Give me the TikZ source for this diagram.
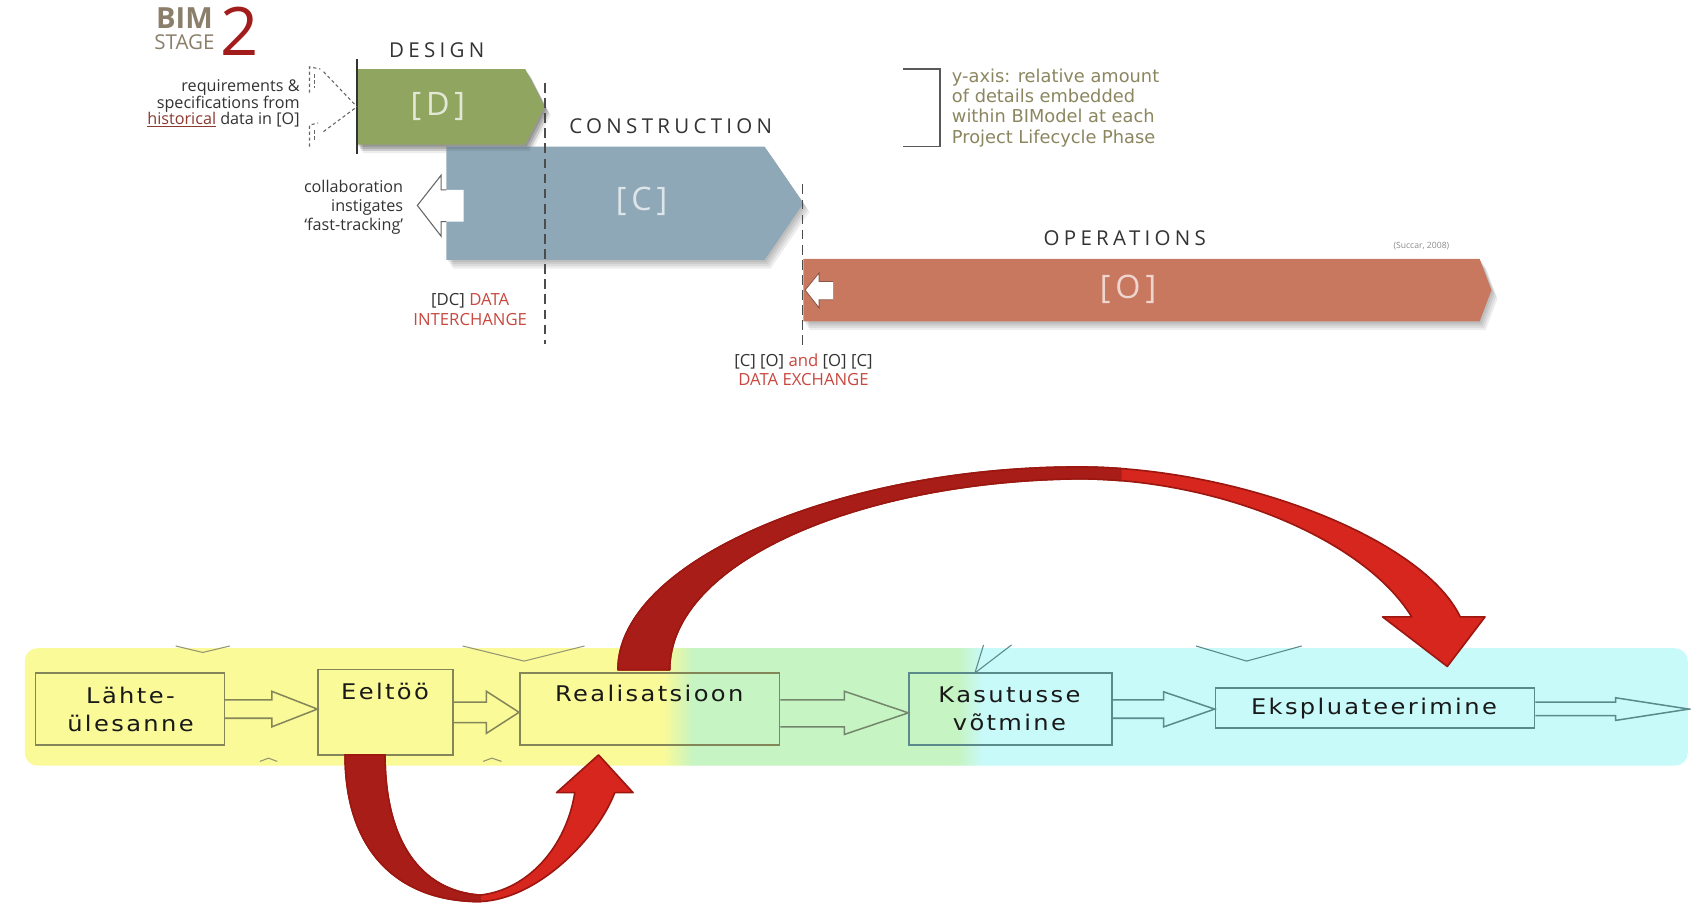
\documentclass[tikz,border=0pt]{standalone}
\usepackage{fontspec}
\setmainfont{Open Sans}
\newfontfamily\phasefont[LetterSpace=21]{Open Sans}
\newfontfamily\brfont[LetterSpace=15]{Open Sans}
\newfontfamily\yfont{DejaVu Sans}
\newfontfamily\boxfont[FakeStretch=1.12,LetterSpace=11]{DejaVu Sans}
\usetikzlibrary{shadows,calc}
\definecolor{bimgray}{HTML}{8B7F6B}
\definecolor{bimred}{HTML}{A31C1C}
\definecolor{dgreen}{HTML}{90A55F}
\definecolor{cblue}{HTML}{8FA8B7}
\definecolor{oorange}{HTML}{C97860}
\definecolor{txtdark}{HTML}{333333}
\definecolor{labred}{HTML}{C8483F}
\definecolor{histbrown}{HTML}{8B3A30}
\definecolor{yaxis}{HTML}{8C8660}
\definecolor{bandY}{HTML}{FAFA98}
\definecolor{bandG}{HTML}{C6F4C2}
\definecolor{bandC}{HTML}{C9FAFA}
\definecolor{olivebox}{HTML}{85855A}
\definecolor{tealbox}{HTML}{5A8A8C}
\definecolor{arcdark}{HTML}{A91D18}
\definecolor{arcbright}{HTML}{D7261E}
\definecolor{arcedge}{HTML}{9B1710}
\def\bigarc{(573,621) .. controls (573,520) and (780,433) .. (1000,433)
 .. controls (1150,433) and (1320,500) .. (1354,572)
 -- (1377,572) -- (1342,618) -- (1282,572) -- (1309,572)
 .. controls (1265,500) and (1130,444) .. (1000,444)
 .. controls (800,446) and (621,520) .. (621,621) -- cycle}
\def\smallarc{(320,700) .. controls (320,790) and (370,836) .. (445,836)
 .. controls (500,834) and (555,775) .. (570,735)
 -- (587,735) -- (555,700) -- (516,735) -- (533,735)
 .. controls (525,785) and (490,825) .. (445,830)
 .. controls (390,826) and (357,780) .. (357,700) -- cycle}
\def\obar{(745,240) -- (1372,240) -- (1383,269) -- (1372,298) -- (745,298) -- cycle}
\def\cbar{(414,136) -- (709,136) -- (745,188.5) -- (709,241) -- (414,241) -- cycle}
\def\dbar{(331,64) -- (487,64) -- (505,99) -- (487,134) -- (331,134) -- cycle}
\begin{document}
\begin{tikzpicture}[x=1pt,y=-1pt,
  phase/.style={font=\phasefont\fontsize{19}{22}\selectfont, text=txtdark, inner sep=0},
  brk/.style={font=\brfont\fontsize{30}{34}\selectfont, inner sep=0},
  note/.style={font=\fontsize{15}{15.5}\selectfont, text=txtdark, inner sep=0},
  bx/.style={draw=olivebox, line width=1.4, inner sep=0},
  bxt/.style={font=\boxfont\fontsize{20}{26}\selectfont, text=black!90, inner sep=0, align=center},
  barrow/.style={draw=olivebox, line width=1.4},
  vdash/.style={draw=black!70, line width=1.6, dash pattern=on 9pt off 5pt},
  sdash/.style={draw=black!60, line width=1, dash pattern=on 3pt off 2.5pt},
  softshadow/.style={fill=black, opacity=0.07},
  chev/.style={draw=olivebox!85, line width=1},
  arcfill/.style={draw=arcedge, line width=1.5, line join=round}]
\fill[white] (0,0) rectangle (1568,840);
\useasboundingbox (0,0) rectangle (1568,840);

% ---------- BIM stage 2 ----------
\node[font=\bfseries\fontsize{27}{27}\selectfont, text=bimgray, inner sep=0] (bim) at (171,17) {BIM};
\node[font=\fontsize{19}{19}\selectfont, text=bimgray, inner sep=0] (stage) at (171,39) {STAGE};
\node[font=\fontsize{62}{62}\selectfont, text=bimred, inner sep=0] (two) at (222,29) {2};

% ---------- phase bars with soft shadows ----------
\foreach \k in {2,4,6,8}{
  \fill[softshadow, shift={(\k*0.7,\k)}] \obar;
  \fill[softshadow, shift={(\k*0.7,\k)}] \cbar;
  \fill[softshadow, shift={(\k*0.7,\k)}] \dbar;
}
\fill[oorange] \obar;
\fill[cblue] \cbar;
\foreach \k in {2,4,6}{\fill[softshadow, shift={(\k*0.7,\k)}] \dbar;}
\fill[dgreen] \dbar;
\coordinate (dleft) at (331,99);

\node[brk, text=white, opacity=0.75] (dlab) at (406,99) {[D]};
\node[brk, text=white, opacity=0.7] (clab) at (595,187) {[C]};
\node[brk, text=white, opacity=0.7] (olab) at (1046,268) {[O]};

\node[phase] (design) at (405,46.5) {DESIGN};
\node[phase] (construction) at (622,117) {CONSTRUCTION};
\node[phase] (operations) at (1043,221) {OPERATIONS};
\node[font=\fontsize{8}{8}\selectfont, text=black!45, inner sep=0] (succar) at (1318,228) {(Succar, 2008)};

% phase borders
\draw[black!80, line width=1.3] (331,55) -- (331,143);
\draw[vdash] (505.5,77) -- (505.5,319);
\draw[vdash] (744,171) -- (744,320);

% requirements
\node[note, align=right, anchor=east] (req) at (278,96) {requirements \&\\specifications from\\\textcolor{histbrown}{\underline{historical}} data in [O]};
\coordinate (requp) at (300,66.5);
\coordinate (reqlo) at (300,122);
\draw[sdash] (requp) -- (dleft);
\draw[sdash] (reqlo) -- (dleft);
\draw[sdash] (287,86) -- (287,62) -- (297,64);
\draw[sdash] (292,69) -- (292,82);
\draw[sdash] (287,136) -- (287,116) -- (295,114);
\draw[sdash] (292,121) -- (292,132);

% collaboration arrow
\fill[white] (430,176) -- (409,176) -- (409,162.5) -- (387,190.5) -- (409,219) -- (409,205.5) -- (430,205.5) -- cycle;
\draw[black!60, line width=1] (414,176) -- (409,176) -- (409,162.5) -- (387,190.5) -- (409,219) -- (409,205.5) -- (414,205.5);
\node[note, align=right, anchor=east, font=\fontsize{15}{17.5}\selectfont] (collab) at (374,192) {collaboration\\instigates\\`fast-tracking'};

% operations back arrow
\fill[white, draw=oorange!70!black, line width=0.8] (772.5,261) -- (759.5,261) -- (759.5,253) -- (746.5,269) -- (759.5,285.5) -- (759.5,278) -- (772.5,278);

% data labels
\node[note, align=center, font=\fontsize{15.5}{18.5}\selectfont] (dc) at (436,287) {[DC] \textcolor{labred}{DATA}\\\textcolor{labred}{INTERCHANGE}};
\node[note, align=center, font=\fontsize{15.5}{18}\selectfont] (cx) at (745,343) {[C] [O] \textcolor{labred}{and} [O] [C]\\\textcolor{labred}{DATA EXCHANGE}};

% y-axis note
\draw[black!65, line width=1.5] (837.6,64) -- (871.6,64) -- (871.6,136) -- (837.6,136);
\node[font=\yfont\fontsize{16.5}{18.7}\selectfont, text=yaxis, align=left, anchor=west, inner sep=0] (yax) at (882.5,100) {y-axis: relative amount\\of details embedded\\within BIModel at each\\Project Lifecycle Phase};

% ---------- lower process band ----------
\begin{scope}
\clip[rounded corners=12] (23,601) rectangle (1565,710);
\fill[bandY] (0,590) rectangle (616,720);
\shade[left color=bandY, right color=bandG] (615,590) rectangle (643,720);
\fill[bandG] (642,590) rectangle (889,720);
\shade[left color=bandG, right color=bandC] (888,590) rectangle (912,720);
\fill[bandC] (911,590) rectangle (1570,720);
\end{scope}

% chevron remnants
\draw[chev] (163,599) -- (188,605) -- (213,599);
\draw[chev] (429,599) -- (486,613) -- (542,599);
\draw[chev] (241,706) -- (249,703) -- (257,706);
\draw[chev] (448,706) -- (456,703) -- (465,706);
\draw[chev, draw=tealbox] (912,598) -- (904,624) -- (938,598);
\draw[chev, draw=tealbox] (1109,599) -- (1156,613) -- (1207,599);

% boxes
\node[bx, minimum width=175, minimum height=67] (lahte) at (120.5,657.5) {};
\node[bx, minimum width=125, minimum height=79] (eeltoo) at (357.5,660.5) {};
\node[bx, minimum width=241, minimum height=67] (real) at (602.5,657.5) {};
\node[bx, draw=tealbox, minimum width=188, minimum height=67] (kas) at (937,657.5) {};
\node[bx, draw=tealbox, minimum width=296, minimum height=37] (eks) at (1275,656.5) {};

\node[bxt] (lahtet) at (121,657.5) {Lähte-\\ülesanne};
\node[bxt] (eeltoot) at (357,641) {Eeltöö};
\node[bxt] (realt) at (602,643) {Realisatsioon};
\node[bxt] (kast) at (936,657.5) {Kasutusse\\võtmine};
\node[bxt] (ekst) at (1274,657) {Ekspluateerimine};

% block arrows
\draw[barrow] (lahte.east |- 0,649) -- (252,649) -- (252,641) -- (eeltoo.west |- 0,657.5) -- (252,674) -- (252,666) -- (lahte.east |- 0,666);
\draw[barrow] (eeltoo.east |- 0,651) -- (451,651) -- (451,641) -- (real.west |- 0,660.5) -- (451,680) -- (451,670) -- (eeltoo.east |- 0,670);
\draw[barrow, draw=olivebox!60!tealbox] (real.east |- 0,649) -- (783,649) -- (783,641) -- (kas.west |- 0,661) -- (783,681) -- (783,674) -- (real.east |- 0,674);
\draw[barrow, draw=tealbox] (kas.east |- 0,649) -- (1079,649) -- (1079,641.5) -- (eks.west |- 0,657.5) -- (1079,674) -- (1079,666) -- (kas.east |- 0,666);
\coordinate (outend) at (1566,657.5);
\draw[barrow, draw=tealbox] (eks.east |- 0,651) -- (1498,651) -- (1498,647) -- (outend) -- (1498,668) -- (1498,663.5) -- (eks.east |- 0,663.5);

% ---------- red curved arrows ----------
\path[fill=arcbright, arcfill] \bigarc;
\begin{scope}
\clip (0,0) rectangle (1040,840);
\path[fill=arcdark, arcfill] \bigarc;
\end{scope}
\path[fill=arcbright, arcfill] \smallarc;
\begin{scope}
\clip (0,0) rectangle (446,840);
\path[fill=arcdark, arcfill] \smallarc;
\end{scope}
\end{tikzpicture}
\end{document}
